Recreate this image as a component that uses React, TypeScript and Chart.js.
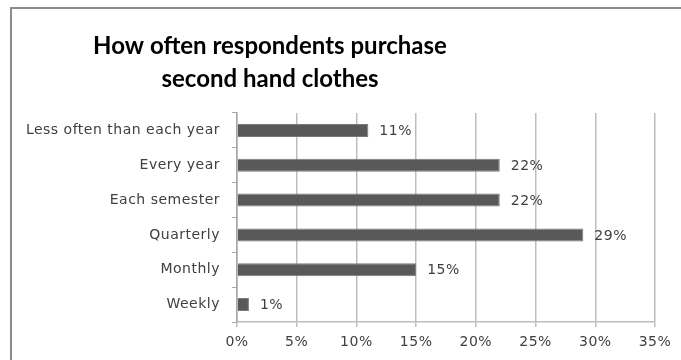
import React, { useEffect, useRef } from "react";
import { Chart, registerables } from "chart.js";

Chart.register(...registerables);

const categories = [
  "Less often than each year",
  "Every year",
  "Each semester",
  "Quarterly",
  "Monthly",
  "Weekly",
];
const percentages = [11, 22, 22, 29, 15, 1];
const titleLines = ["How often respondents purchase", "second hand clothes"];
const xMin = 0;
const xMax = 35;
const xStep = 5;

const TITLE_FONT = "Lato, 'Open Sans', sans-serif";
const FONT = "'DejaVu Sans', sans-serif";
const TEXT = "#404040";

const framePlugin = {
  id: "frame",
  beforeDraw(chart: any) {
    const { ctx, width, height } = chart;
    ctx.save();
    ctx.fillStyle = "#ffffff";
    ctx.fillRect(0, 0, width, height);
    ctx.strokeStyle = "#8c8c8c";
    ctx.lineWidth = 2;
    ctx.beginPath();
    ctx.moveTo(11, height + 5);
    ctx.lineTo(11, 8);
    ctx.lineTo(width + 5, 8);
    ctx.stroke();
    ctx.restore();
    (ctx as any).letterSpacing = "0.5px";
  },
};

const titlePlugin = {
  id: "twoLineTitle",
  afterDraw(chart: any) {
    const { ctx } = chart;
    ctx.save();
    (ctx as any).letterSpacing = "0px";
    ctx.font = `bold 24px ${TITLE_FONT}`;
    ctx.fillStyle = "#000000";
    ctx.textAlign = "center";
    ctx.textBaseline = "middle";
    titleLines.forEach((line, i) => {
      ctx.fillText(line, 270, 46 + i * 33);
    });
    ctx.restore();
  },
};

const valueLabelPlugin = {
  id: "valueLabels",
  afterDatasetsDraw(chart: any) {
    const { ctx } = chart;
    const meta = chart.getDatasetMeta(0);
    const data = chart.data.datasets[0].data as number[];
    ctx.save();
    (ctx as any).letterSpacing = "0.5px";
    ctx.font = `14px ${FONT}`;
    ctx.fillStyle = TEXT;
    ctx.textAlign = "left";
    ctx.textBaseline = "middle";
    meta.data.forEach((bar: any, i: number) => {
      ctx.fillText(`${data[i]}%`, bar.x + 11, bar.y + 1);
    });
    ctx.restore();
  },
};

export default function App() {
  const ref = useRef<HTMLCanvasElement | null>(null);
  useEffect(() => {
    if (!ref.current) return;
    const chart = new Chart(ref.current, {
      type: "bar",
      data: {
        labels: categories,
        datasets: [
          {
            data: percentages,
            backgroundColor: "#595959",
            borderColor: "#7a7a7a",
            borderWidth: 1,
            barPercentage: 0.75,
            categoryPercentage: 0.5,
          },
        ],
      },
      options: {
        indexAxis: "y",
        animation: false,
        responsive: false,
        maintainAspectRatio: false,
        layout: { padding: { left: 0, right: 26, top: 113, bottom: 0 } },
        plugins: {
          legend: { display: false },
          tooltip: { enabled: false },
          title: { display: false },
        },
        scales: {
          x: {
            min: xMin,
            max: xMax,
            ticks: {
              stepSize: xStep,
              color: TEXT,
              font: { family: FONT, size: 14 },
              padding: 7,
              callback: (v: any) => `${v}%`,
            },
            grid: {
              color: "#bdbdbd",
              lineWidth: 1.5,
              tickLength: 5,
            },
            border: { color: "#bdbdbd", width: 1.5 },
            afterFit: (scale: any) => {
              scale.height = 38;
            },
          },
          y: {
            ticks: {
              color: TEXT,
              font: { family: FONT, size: 14 },
              padding: 12,
            },
            grid: {
              display: true,
              drawOnChartArea: false,
              offset: true,
              color: "#a6a6a6",
              tickLength: 5,
            },
            border: { color: "#a6a6a6", width: 1.5 },
            afterFit: (scale: any) => {
              scale.width = 237;
            },
          },
        },
      },
      plugins: [framePlugin, titlePlugin, valueLabelPlugin],
    });
    return () => chart.destroy();
  }, []);
  return (
    <div style={{ position: "fixed", left: 0, top: 0, width: 681, height: 360 }}>
      <canvas ref={ref} width={681} height={360} style={{ width: 681, height: 360 }} />
    </div>
  );
}
